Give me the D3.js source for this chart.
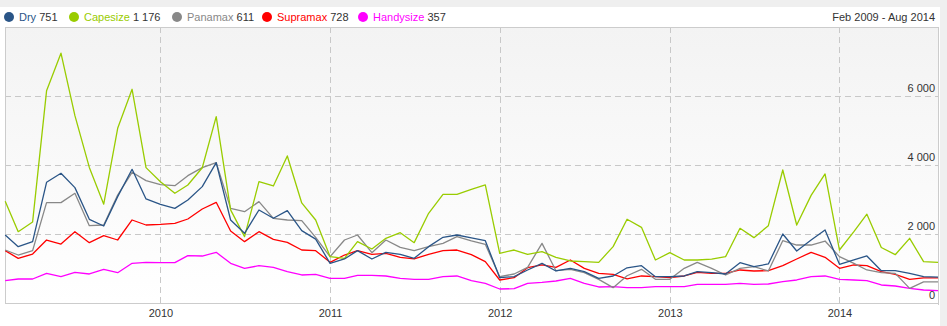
<!DOCTYPE html>
<html>
<head>
<meta charset="utf-8">
<script src="https://cdn.jsdelivr.net/npm/d3@7"></script>
<style>
  html, body { margin: 0; padding: 0; background: #efefef; }
  svg { display: block; font-family: "Liberation Sans", Arial, sans-serif; }
</style>
</head>
<body>
<svg id="chart" width="947" height="326"></svg>
<script>
// ---- Data (monthly, Feb 2009 - Aug 2014) ----
const startMonth = "2009-02";
const endMonth = "2014-08";
const seriesNames = ["Dry", "Capesize", "Panamax", "Supramax", "Handysize"];
const seriesColors = ["#2a5587", "#99cc00", "#888888", "#ff0000", "#ff00ff"];
const legendValues = ["751", "1 176", "611", "728", "357"];
const dateRangeLabel = "Feb 2009 - Aug 2014";

const dry = [1971,1633,1778,3498,3759,3344,2426,2232,3083,3875,3015,2861,
  2744,2986,3373,4068,2406,2020,2696,2455,2677,2097,1850,
  1150,1276,1517,1276,1469,1411,1295,1633,1904,1971,1885,1807,
  734,764,957,1150,928,1005,908,715,783,1020,1082,764,
  764,783,908,879,841,1169,1053,1131,2000,1507,1826,2116,
  1121,1247,1363,937,937,860,764,751];
const capesize = [2950,2067,2350,6150,7240,5430,3930,2865,5064,6195,3923,3517,
  3179,3421,3920,5401,2700,1923,3517,3392,4262,2900,2406,
  1343,1295,1778,1565,1875,2039,1749,2600,3150,3150,3295,3421,
  1440,1536,1411,1488,1324,1218,1198,1179,1633,2426,2194,1247,
  1459,1247,1247,1270,1343,2165,1894,2242,3856,2261,3120,3740,
  1536,2068,2575,1610,1400,1875,1198,1176];
const panamax = [1536,1391,1517,2909,2909,3179,2242,2261,3131,3788,3546,3430,
  3401,3691,3923,4068,2744,2647,2938,2455,2406,2387,1900,
  1343,1826,1971,1459,1826,1614,1517,1633,1729,1923,1800,1701,
  764,841,1034,1729,937,976,879,686,445,790,976,686,
  686,1005,1179,1005,812,1005,1053,928,1807,1681,1681,1797,
  1343,1150,957,879,860,425,611,611];
const supramax = [1517,1295,1420,1826,1710,2067,1749,1952,1826,2406,2261,2280,
  2309,2435,2725,2918,2087,1778,2067,1846,1759,1536,1517,
  1179,1391,1517,1411,1440,1324,1276,1411,1517,1536,1400,1198,
  667,734,1024,1102,1034,1247,1005,860,831,700,783,764,
  734,783,889,860,860,957,928,937,1082,1276,1469,1324,
  1005,1102,1082,908,831,686,728,728];
const handysize = [647,696,696,860,764,889,841,976,879,1150,1179,1169,
  1169,1372,1362,1469,1150,1005,1082,1034,908,812,831,
  715,715,802,802,783,715,686,686,764,783,650,570,
  406,415,570,599,638,715,570,464,474,445,445,474,
  474,474,541,541,541,570,541,551,618,667,764,783,
  686,667,647,522,493,425,377,357];
const yTicks = [0, 2000, 4000, 6000];
const yMax = 8000;

// ---- Build ----
const parseMonth = d3.timeParse("%Y-%m");
const months = d3.timeMonth.range(parseMonth(startMonth), d3.timeMonth.offset(parseMonth(endMonth), 1));
const allSeries = [dry, capesize, panamax, supramax, handysize];

const svg = d3.select("#chart");
const W = 947, H = 326;
const panel = { x: 0, y: 7, w: 940, h: 319 };
const plot = { left: 5, right: 938, top: 27, bottom: 303 };

const x = d3.scaleTime().domain([months[0], months[months.length - 1]]).range([plot.left + 0.2, plot.right]);
const y = d3.scaleLinear().domain([0, yMax]).range([plot.bottom, plot.top]);
const fmt = d3.formatLocale({ decimal: ".", thousands: " ", grouping: [3], currency: ["", ""] }).format(",d");

// panel
svg.append("rect").attr("x", panel.x).attr("y", panel.y).attr("width", panel.w).attr("height", panel.h).attr("fill", "#ffffff");

// gradient
const defs = svg.append("defs");
const grad = defs.append("linearGradient").attr("id", "bg").attr("x1", 0).attr("y1", 0).attr("x2", 0).attr("y2", 1);
grad.append("stop").attr("offset", "0%").attr("stop-color", "#f3f3f3");
grad.append("stop").attr("offset", "100%").attr("stop-color", "#ffffff");
svg.append("rect").attr("x", plot.left).attr("y", plot.top)
  .attr("width", plot.right - plot.left).attr("height", plot.bottom - plot.top)
  .attr("fill", "url(#bg)");

// grid lines
const gridColor = "#c8c8c8";
svg.append("g").selectAll("line").data(yTicks.filter(d => d > 0)).join("line")
  .attr("x1", plot.left).attr("x2", plot.right)
  .attr("y1", d => Math.round(y(d)) + 0.5).attr("y2", d => Math.round(y(d)) + 0.5)
  .attr("stroke", gridColor).attr("stroke-dasharray", "6,4");
const yearTicks = x.ticks(d3.timeYear.every(1)).filter(d => d > months[0]);
svg.append("g").selectAll("line").data(yearTicks).join("line")
  .attr("x1", d => Math.round(x(d)) + 0.5).attr("x2", d => Math.round(x(d)) + 0.5)
  .attr("y1", plot.top).attr("y2", plot.bottom)
  .attr("stroke", gridColor).attr("stroke-dasharray", "6,4");

// borders
const borderColor = "#cccccc";
svg.append("line").attr("x1", plot.left).attr("x2", plot.right).attr("y1", plot.top + 0.5).attr("y2", plot.top + 0.5).attr("stroke", borderColor);
svg.append("line").attr("x1", plot.left).attr("x2", plot.right + 1).attr("y1", plot.bottom + 0.5).attr("y2", plot.bottom + 0.5).attr("stroke", borderColor);
svg.append("line").attr("x1", plot.left + 0.5).attr("x2", plot.left + 0.5).attr("y1", plot.top).attr("y2", plot.bottom).attr("stroke", borderColor);
svg.append("line").attr("x1", plot.right + 0.5).attr("x2", plot.right + 0.5).attr("y1", plot.top).attr("y2", plot.bottom + 2).attr("stroke", borderColor);

// x axis labels
const xAxis = d3.axisBottom(x).tickValues(yearTicks).tickFormat(d3.timeFormat("%Y")).tickSize(0).tickPadding(6);
const gx = svg.append("g").attr("transform", `translate(0,${plot.bottom})`).call(xAxis);
gx.select(".domain").remove();
gx.selectAll("text").attr("fill", "#333").attr("font-size", 11).attr("font-family", "Liberation Sans, Arial, sans-serif");

// y axis labels (inside, right-aligned, above gridlines)
const yAxis = d3.axisLeft(y).tickValues(yTicks).tickFormat(fmt).tickSize(0).tickPadding(0);
const gy = svg.append("g").attr("transform", `translate(${plot.right - 3},0)`).call(yAxis);
gy.select(".domain").remove();
gy.selectAll("text").attr("fill", "#333").attr("font-size", 11).attr("dy", "-0.45em")
  .attr("font-family", "Liberation Sans, Arial, sans-serif");

// lines
const line = d3.line().x((d, i) => x(months[i])).y(d => y(d));
const drawOrder = [4, 3, 2, 1, 0];
svg.append("g").selectAll("path").data(drawOrder).join("path")
  .attr("d", k => line(allSeries[k]))
  .attr("fill", "none")
  .attr("stroke", k => seriesColors[k])
  .attr("stroke-width", 1.3)
  .attr("stroke-linejoin", "round");

// legend
const legendX = [8, 73, 176, 266, 362];
const lg = svg.append("g").attr("font-size", 11);
seriesNames.forEach((name, k) => {
  const g = lg.append("g").attr("transform", `translate(${legendX[k]},17)`);
  g.append("circle").attr("r", 5).attr("cx", 1).attr("cy", 0).attr("fill", seriesColors[k]);
  const t = g.append("text").attr("x", 11).attr("y", 4);
  t.append("tspan").attr("fill", seriesColors[k]).text(name);
  t.append("tspan").attr("fill", "#333").text(" " + legendValues[k]);
});
svg.append("text").attr("x", 935).attr("y", 21).attr("text-anchor", "end")
  .attr("font-size", 11).attr("fill", "#333").text(dateRangeLabel);
</script>
</body>
</html>
